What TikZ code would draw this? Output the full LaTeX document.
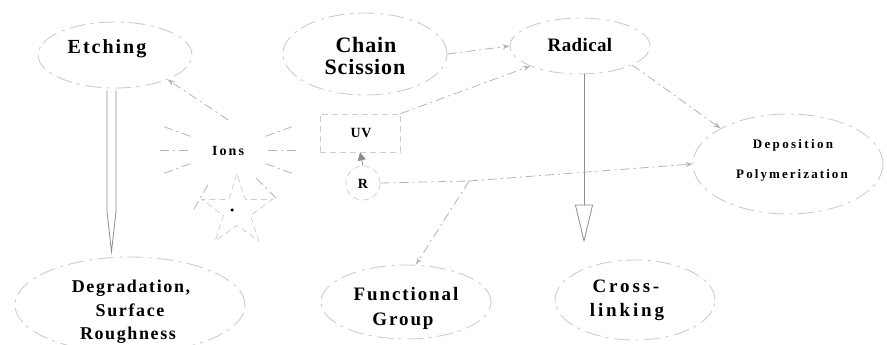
\documentclass[tikz,border=0pt]{standalone}
\usepackage{fontspec}
\setmainfont{Liberation Serif}
\usetikzlibrary{shapes.geometric,arrows.meta,calc}
\newcommand{\lfnt}[2]{\bfseries\fontsize{#1}{#1}\selectfont\addfontfeature{LetterSpace=#2}}
\definecolor{bubgray}{HTML}{CCCCCC}
\definecolor{linkgray}{HTML}{B4B4B4}
\definecolor{shaftgray}{HTML}{8C8C8C}
\begin{document}
\begin{tikzpicture}[x=1pt,y=-1pt,
  bub/.style={draw=bubgray, line width=0.9pt, ellipse, inner sep=0pt,
    dash pattern=on 16pt off 5pt on 3pt off 6pt},
  txt/.style={anchor=base, inner sep=0pt, text=black},
  link/.style={draw=linkgray, line width=0.8pt, dash pattern=on 9pt off 4pt on 2pt off 4pt},
  tip/.style={-{Stealth[length=7pt,width=5pt]}},
  shaft/.style={draw=shaftgray, line width=0.8pt},
  faint/.style={draw=bubgray, line width=0.7pt, dash pattern=on 6pt off 4pt}]
\useasboundingbox (0,0) rectangle (887,345);

% ellipses
\node[bub, minimum width=154pt, minimum height=66pt] (etch) at (115,55) {};
\node[bub, minimum width=164pt, minimum height=82pt] (cs) at (365,54) {};
\node[bub, minimum width=140pt, minimum height=56pt] (rad) at (580,46) {};
\node[bub, minimum width=190pt, minimum height=100pt] (depo) at (788,164) {};
\node[bub, minimum width=230pt, minimum height=96pt] (degr) at (130,305) {};
\node[bub, minimum width=170pt, minimum height=74pt] (func) at (406,302) {};
\node[bub, minimum width=160pt, minimum height=80pt] (cross) at (635,300) {};

% central species
\node[faint, minimum width=80pt, minimum height=38pt, inner sep=0pt] (uvbox) at (360,133) {};
\node[faint, circle, minimum size=34pt, inner sep=0pt] (rcirc) at (363,183) {};
\node[circle, minimum size=60pt, inner sep=0pt] (burst) at (228,150) {};
\node[faint, star, star points=5, star point ratio=2.6, minimum size=74pt, inner sep=0pt] (star) at (237,211) {};
\node[circle, fill=black, inner sep=0pt, minimum size=3.5pt] (dot) at (232,210) {};

% texts
\node[txt, font=\lfnt{20}{10}] (tEtch) at (107,54) {Etching};
\node[txt, font=\lfnt{22}{4}] (tCs1) at (366,53) {Chain};
\node[txt, font=\lfnt{22}{4}] (tCs2) at (365,75) {Scission};
\node[txt, font=\lfnt{19}{2}] (tRad) at (580,52) {Radical};
\node[txt, font=\lfnt{13}{18}] (tDep1) at (793,148) {Deposition};
\node[txt, font=\lfnt{13}{16}] (tDep2) at (792,178) {Polymerization};
\node[txt, font=\lfnt{18}{9}] (tDeg1) at (131,292) {Degradation,};
\node[txt, font=\lfnt{18}{9}] (tDeg2) at (130,316) {Surface};
\node[txt, font=\lfnt{18}{9}] (tDeg3) at (128,339) {Roughness};
\node[txt, font=\lfnt{19}{10}] (tFun1) at (406,300) {Functional};
\node[txt, font=\lfnt{19}{10}] (tFun2) at (403,325) {Group};
\node[txt, font=\lfnt{19}{15}] (tCr1) at (626,292) {Cross-};
\node[txt, font=\lfnt{19}{15}] (tCr2) at (627,316) {linking};
\node[txt, font=\lfnt{14}{15}] (tIons) at (228,155) {Ions};
\node[txt, font=\lfnt{14}{4}] (tUV) at (361,138) {UV};
\node[txt, font=\lfnt{14}{0}] (tR) at (363,188) {R};

% rays around Ions
\foreach \a in {0,20,45,120,160,180,200,-20}
  \draw[link] (burst.center) ++(\a:40) -- ++(\a:28);

% Etching => Degradation (hollow double arrow)
\path ([xshift=-3.5pt]etch.south) coordinate (e1);
\path ([xshift=-18.5pt,yshift=5pt]degr.north) coordinate (e2);
\draw[shaft] ($(e1)+(-4.5,2)$) -- ($(e2)+(-4.5,-40)$) -- (e2)
  -- ($(e2)+(4.5,-40)$) -- ($(e1)+(4.5,2)$);

% Radical -> Cross-linking
\draw[shaft, -{Triangle[open, length=38pt, width=18pt]}, shorten >=17pt]
  ([xshift=4pt]rad.south) -- ([xshift=-51pt]cross.north);

% Chain Scission -> Radical, UV -> Radical
\draw[link, tip] (cs.east) -- (rad.west);
\draw[link, tip] (uvbox.north east) -- (rad.south west);

% Ions -> Etching
\draw[link, tip] (burst.north) -- (etch.-25);

% R -> UV
\draw[shaft, -{Triangle[length=8pt,width=8pt]}] (rcirc.north) -- (uvbox.south);

% R -> Deposition, -> Functional Group
\coordinate (j) at (469,181);
\draw[link] (rcirc.east) -- (j);
\draw[link, tip] (j) -- (depo.west);
\draw[link, tip] (j) -- ([xshift=10pt]func.north);

% Radical -> Deposition
\draw[link, tip] (rad.-20) -- (depo.north west);
\end{tikzpicture}
\end{document}
